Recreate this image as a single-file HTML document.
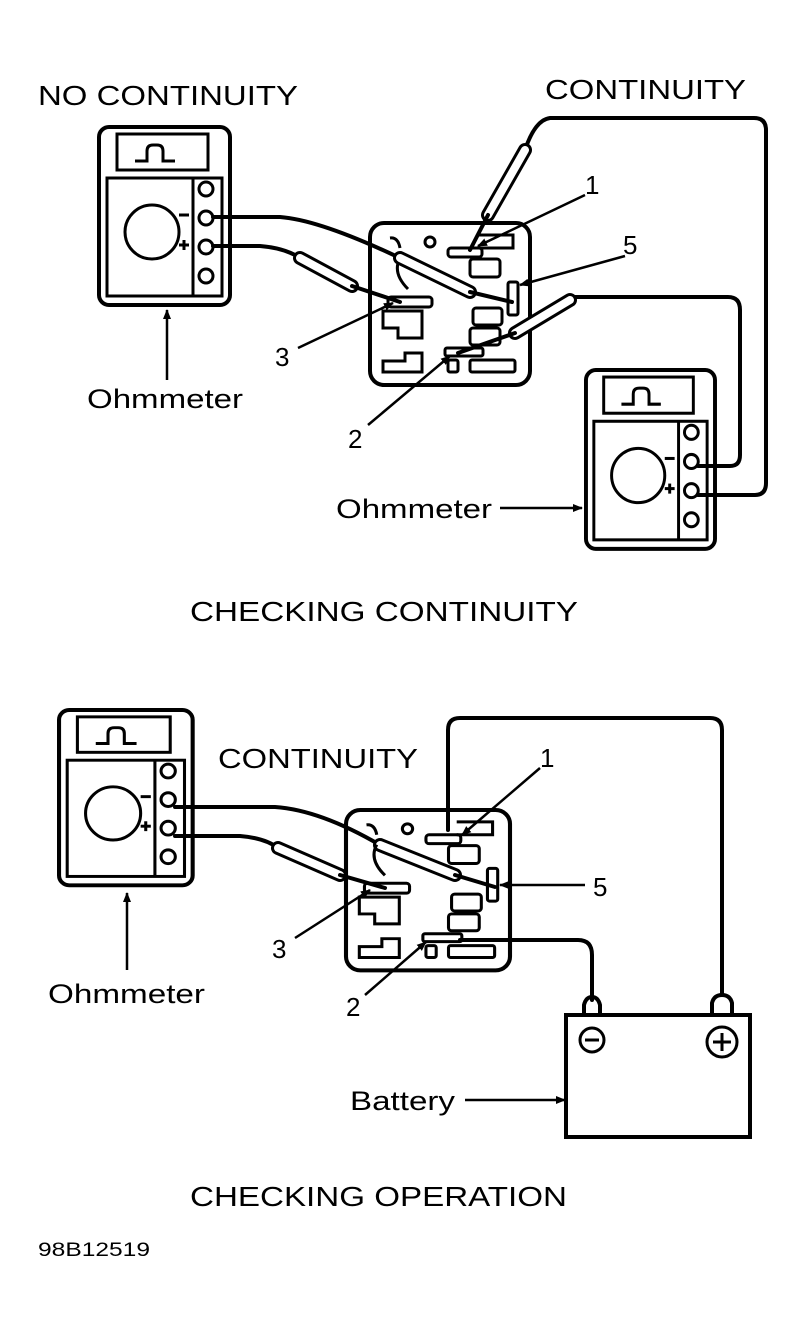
<!DOCTYPE html>
<html><head><style>
body{margin:0;background:#fff}
svg{display:block}
text{font-family:"Liberation Sans",sans-serif;fill:#000}
</style></head><body>
<svg width="808" height="1331" viewBox="0 0 808 1331" xmlns="http://www.w3.org/2000/svg">
<defs>
<marker id="ah" markerWidth="10" markerHeight="8" refX="9" refY="4" orient="auto" markerUnits="userSpaceOnUse">
<path d="M0,0 L10,4 L0,8 z" fill="#000"/></marker>
<g id="meter" fill="none" stroke="#000">
<rect x="2" y="2" width="131" height="178" rx="10" stroke-width="4"/>
<rect x="20" y="9" width="91" height="36" stroke-width="3"/>
<path d="M38,36 H50 V26 Q50,20 56,20 H60 Q66,20 66,26 V36 H78" stroke-width="3"/>
<rect x="10" y="53" width="115" height="118" stroke-width="3"/>
<line x1="96" y1="53" x2="96" y2="171" stroke-width="3"/>
<circle cx="55" cy="107" r="27" stroke-width="3"/>
<circle cx="109" cy="64" r="7" stroke-width="3"/>
<circle cx="109" cy="93" r="7" stroke-width="3"/>
<circle cx="109" cy="122" r="7" stroke-width="3"/>
<circle cx="109" cy="151" r="7" stroke-width="3"/>
<line x1="82" y1="90" x2="92" y2="90" stroke-width="3"/>
<line x1="82" y1="120" x2="92" y2="120" stroke-width="3"/>
<line x1="87" y1="115" x2="87" y2="125" stroke-width="3"/>
</g>
<g id="relay" fill="none" stroke="#000" stroke-width="3">
<rect x="0" y="0" width="160" height="162" rx="14" stroke-width="4"/>
<circle cx="60" cy="19" r="5"/>
<path d="M108,12 H143 V25 H108"/>
<rect x="78" y="25" width="34" height="9" rx="3"/>
<path d="M20,15 Q28,14 30,25 M30,35 Q22,50 38,66"/>
<rect x="100" y="36" width="30" height="18" rx="3"/>
<rect x="18" y="74" width="44" height="10" rx="3"/>
<rect x="138" y="59" width="10" height="33" rx="2"/>
<path d="M13,88 H52 V115 H28 V105 H13 Z"/>
<rect x="103" y="85" width="29" height="17" rx="3"/>
<rect x="100" y="105" width="30" height="17" rx="3"/>
<path d="M13,138 H35 V130 H52 V149 H13 Z"/>
<rect x="75" y="125" width="38" height="8" rx="2"/>
<rect x="78" y="137" width="10" height="12" rx="2"/>
<rect x="100" y="137" width="45" height="12" rx="2"/>
</g>
</defs>

<!-- TOP -->
<text x="38" y="105" font-size="28" textLength="260" lengthAdjust="spacingAndGlyphs">NO CONTINUITY</text>
<text x="545" y="99" font-size="28" textLength="201" lengthAdjust="spacingAndGlyphs">CONTINUITY</text>
<use href="#meter" x="97" y="125"/>
<use href="#relay" x="370" y="223"/>
<use href="#meter" transform="translate(584,368) scale(0.985,1.005)"/>

<g fill="none" stroke="#000" stroke-width="4" stroke-linecap="round" stroke-linejoin="round">
<path d="M213,217 H280 Q320,220 400,258"/>
<path d="M213,246 H260 Q285,248 300,258"/>
<path d="M698,495 H755 Q766,495 766,483 V130 Q766,118 754,118 H550 Q535,120 525,150"/>
<path d="M698,466 H730 Q740,466 740,455 V310 Q740,297 728,297 H575"/>
<path d="M175,807 H275 Q320,810 380,845"/>
<path d="M175,836 H240 Q265,838 278,848"/>
<path d="M722,995 V730 Q722,718 710,718 H460 Q448,718 448,730 V830"/>
<path d="M592,1000 V955 Q592,940 578,940 H460"/>
</g>
<g stroke="#000" stroke-linecap="round">
<line x1="400" y1="258" x2="470" y2="292" stroke-width="14"/><line x1="400" y1="258" x2="470" y2="292" stroke-width="8" stroke="#fff"/>
<line x1="470" y1="292" x2="512" y2="302" stroke-width="4"/>
<line x1="300" y1="258" x2="352" y2="286" stroke-width="14"/><line x1="300" y1="258" x2="352" y2="286" stroke-width="8" stroke="#fff"/>
<line x1="352" y1="286" x2="400" y2="302" stroke-width="4"/>
<line x1="525" y1="150" x2="488" y2="215" stroke-width="14"/><line x1="525" y1="150" x2="488" y2="215" stroke-width="8" stroke="#fff"/>
<line x1="488" y1="215" x2="470" y2="250" stroke-width="4"/>
<line x1="570" y1="300" x2="515" y2="333" stroke-width="14"/><line x1="570" y1="300" x2="515" y2="333" stroke-width="8" stroke="#fff"/>
<line x1="515" y1="333" x2="458" y2="353" stroke-width="4"/>
<line x1="380" y1="845" x2="455" y2="875" stroke-width="14"/><line x1="380" y1="845" x2="455" y2="875" stroke-width="8" stroke="#fff"/>
<line x1="455" y1="875" x2="495" y2="887" stroke-width="4"/>
<line x1="278" y1="848" x2="340" y2="875" stroke-width="14"/><line x1="278" y1="848" x2="340" y2="875" stroke-width="8" stroke="#fff"/>
<line x1="340" y1="875" x2="385" y2="888" stroke-width="4"/>
</g>
<g stroke="#000" stroke-width="2.5" fill="none">
<line x1="585" y1="195" x2="478" y2="246" marker-end="url(#ah)"/>
<line x1="625" y1="256" x2="520" y2="285" marker-end="url(#ah)"/>
<line x1="298" y1="348" x2="393" y2="303" marker-end="url(#ah)"/>
<line x1="368" y1="425" x2="450" y2="356" marker-end="url(#ah)"/>
<line x1="167" y1="380" x2="167" y2="310" marker-end="url(#ah)"/>
<line x1="500" y1="508" x2="582" y2="508" marker-end="url(#ah)"/>
</g>
<text x="585" y="194" font-size="26">1</text>
<text x="623" y="254" font-size="26">5</text>
<text x="275" y="366" font-size="26">3</text>
<text x="348" y="448" font-size="26">2</text>
<text x="87" y="408" font-size="27" textLength="156" lengthAdjust="spacingAndGlyphs">Ohmmeter</text>
<text x="336" y="518" font-size="27" textLength="156" lengthAdjust="spacingAndGlyphs">Ohmmeter</text>
<text x="190" y="621" font-size="28" textLength="388" lengthAdjust="spacingAndGlyphs">CHECKING CONTINUITY</text>

<!-- BOTTOM -->
<use href="#meter" transform="translate(57,708) scale(1.02,0.985)"/>
<text x="218" y="768" font-size="28" textLength="200" lengthAdjust="spacingAndGlyphs">CONTINUITY</text>
<use href="#relay" transform="translate(346,810) scale(1.025,0.99)"/>
<g fill="none" stroke="#000" stroke-width="4">
<rect x="566" y="1015" width="184" height="122"/>
<path d="M584,1015 V1005 Q586,997 592,997 Q598,997 600,1005 V1015"/>
<path d="M712,1015 V1003 Q714,995 722,995 Q730,995 732,1003 V1015"/>
<circle cx="592" cy="1040" r="12" stroke-width="3"/>
<line x1="585" y1="1040" x2="599" y2="1040" stroke-width="3"/>
<circle cx="722" cy="1042" r="15" stroke-width="3"/>
<line x1="713" y1="1042" x2="731" y2="1042" stroke-width="3"/>
<line x1="722" y1="1033" x2="722" y2="1051" stroke-width="3"/>
</g>
<g stroke="#000" stroke-width="2.5" fill="none">
<line x1="540" y1="768" x2="462" y2="835" marker-end="url(#ah)"/>
<line x1="585" y1="885" x2="500" y2="885" marker-end="url(#ah)"/>
<line x1="295" y1="938" x2="370" y2="890" marker-end="url(#ah)"/>
<line x1="365" y1="995" x2="426" y2="942" marker-end="url(#ah)"/>
<line x1="127" y1="970" x2="127" y2="893" marker-end="url(#ah)"/>
<line x1="465" y1="1100" x2="565" y2="1100" marker-end="url(#ah)"/>
</g>
<text x="540" y="767" font-size="26">1</text>
<text x="593" y="896" font-size="26">5</text>
<text x="272" y="958" font-size="26">3</text>
<text x="346" y="1016" font-size="26">2</text>
<text x="48" y="1003" font-size="27" textLength="157" lengthAdjust="spacingAndGlyphs">Ohmmeter</text>
<text x="350" y="1110" font-size="27" textLength="105" lengthAdjust="spacingAndGlyphs">Battery</text>
<text x="190" y="1206" font-size="28" textLength="377" lengthAdjust="spacingAndGlyphs">CHECKING OPERATION</text>
<text x="38" y="1256" font-size="19" textLength="112" lengthAdjust="spacingAndGlyphs">98B12519</text>
</svg>
</body></html>
